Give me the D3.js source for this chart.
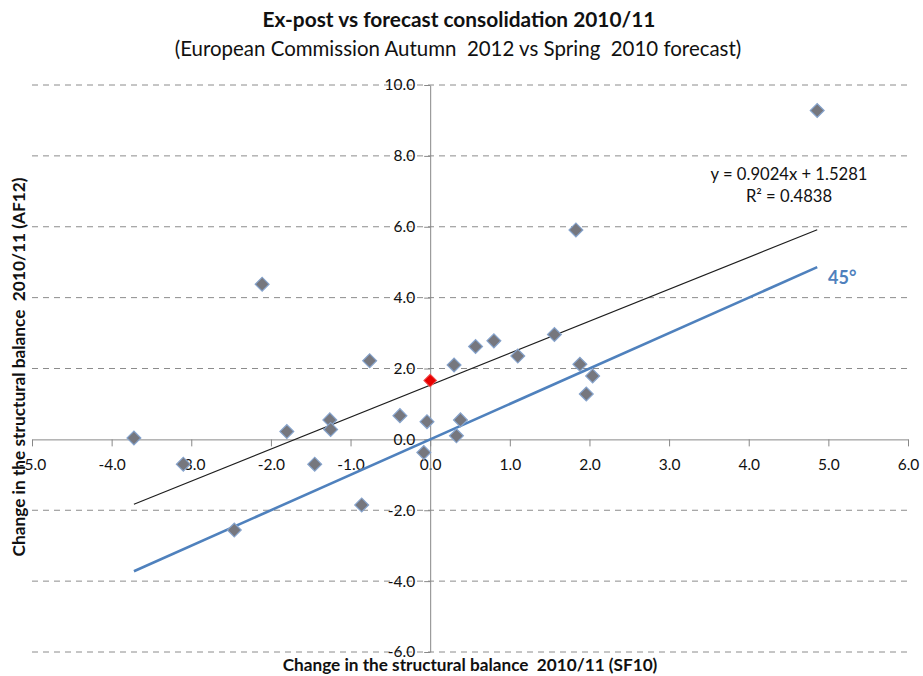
<!DOCTYPE html>
<html>
<head>
<meta charset="utf-8">
<title>Ex-post vs forecast consolidation 2010/11</title>
<style>
  body { margin: 0; background: #fff; }
  text { font-family: Lato, "Open Sans", sans-serif; fill: #111; }
</style>
</head>
<body>
<div id="chart"></div>
<script src="https://cdn.jsdelivr.net/npm/d3@7"></script>
<script>
// change in structural balance 2010/11: forecast (SF10) vs ex-post (AF12)
var sf10 = [-3.72, -3.10, -2.46, -2.11, -1.80, -1.45, -1.26, -1.25, -0.76, -0.86, -0.38, -0.04, -0.08,
            0.33, 0.38, 0.30, 0.57, 0.80, 1.10, 1.56, 1.83, 1.88, 2.04, 1.96, 4.86];
var af12 = [0.04, -0.70, -2.56, 4.38, 0.22, -0.70, 0.55, 0.28, 2.22, -1.85, 0.67, 0.50, -0.37,
            0.10, 0.55, 2.10, 2.62, 2.78, 2.35, 2.96, 5.91, 2.12, 1.79, 1.28, 9.28];
var redX = [0.0];
var redY = [1.66];

var xTicks = [-5, -4, -3, -2, -1, 0, 1, 2, 3, 4, 5, 6];
var yTicks = [-6, -4, -2, 0, 2, 4, 6, 8, 10];

var trendSlope = 0.9024;
var trendIntercept = 1.5281;
var equationLines = ["y = 0.9024x + 1.5281", "R\u00b2 = 0.4838"];

var W = 923, H = 676;
var svg = d3.select("#chart").append("svg").attr("width", W).attr("height", H);

var x = d3.scaleLinear().domain([-5, 6]).range([32, 908]);
var y = d3.scaleLinear().domain([-6, 10]).range([652, 85]);

function fitWidth(sel, w) {
	var len = sel.node().getComputedTextLength();
	var fs = parseFloat(sel.attr("font-size"));
	sel.attr("font-size", (fs * w / len).toFixed(2));
}

// gridlines
svg.append("g").selectAll("line")
	.data(yTicks.filter(function(d) { return d !== 0; }))
	.join("line")
	.attr("x1", x(-5)).attr("x2", x(6))
	.attr("y1", function(d) { return y(d); }).attr("y2", function(d) { return y(d); })
	.attr("stroke", "#8c8c8c")
	.attr("stroke-width", 1)
	.attr("stroke-dasharray", "6,5");

var fmt = function(d) { return d.toFixed(1); };

var xAxis = svg.append("g")
	.attr("transform", "translate(0," + y(0) + ")")
	.call(d3.axisBottom(x).tickValues(xTicks).tickSize(7).tickSizeOuter(0).tickPadding(13).tickFormat(fmt));

var yAxis = svg.append("g")
	.attr("transform", "translate(" + x(0) + ",0)")
	.call(d3.axisLeft(y).tickValues(yTicks).tickSize(6).tickSizeOuter(0).tickPadding(9).tickFormat(fmt));

[xAxis, yAxis].forEach(function(g) {
	g.selectAll("path, line").attr("stroke", "#888");
	g.selectAll("text").attr("font-size", 15.5).attr("font-family", "Lato, sans-serif").attr("fill", "#111");
});

// trend line and 45 degree line over the data range
var xExt = d3.extent(sf10);
var line = d3.line().x(function(d) { return x(d[0]); }).y(function(d) { return y(d[1]); });

svg.append("path")
	.datum(xExt.map(function(v) { return [v, trendSlope * v + trendIntercept]; }))
	.attr("d", line)
	.attr("fill", "none")
	.attr("stroke", "#1e1e1e")
	.attr("stroke-width", 1.2);

svg.append("path")
	.datum(xExt.map(function(v) { return [v, v]; }))
	.attr("d", line)
	.attr("fill", "none")
	.attr("stroke", "#4f81bd")
	.attr("stroke-width", 2.6);

// points
var diamond = d3.symbol().type(d3.symbolSquare).size(96);

svg.append("g").selectAll("path")
	.data(d3.zip(sf10, af12))
	.join("path")
	.attr("d", diamond)
	.attr("transform", function(d) { return "translate(" + x(d[0]) + "," + y(d[1]) + ") rotate(45)"; })
	.attr("fill", "#76777e")
	.attr("stroke", "#86a3cc")
	.attr("stroke-width", 1.2);

svg.append("g").selectAll("path")
	.data(d3.zip(redX, redY))
	.join("path")
	.attr("d", d3.symbol().type(d3.symbolSquare).size(80))
	.attr("transform", function(d) { return "translate(" + x(d[0]) + "," + y(d[1]) + ") rotate(45)"; })
	.attr("fill", "#e80000")
	.attr("stroke", "#f05050")
	.attr("stroke-width", 1);

// equation labels
var eq = svg.append("g");
var eq1 = eq.append("text").attr("x", 789).attr("y", 180).attr("text-anchor", "middle")
	.attr("font-size", 14).text(equationLines[0]);
fitWidth(eq1, 157);
eq.append("text").attr("x", 789).attr("y", 202).attr("text-anchor", "middle")
	.attr("font-size", eq1.attr("font-size")).text(equationLines[1]);

svg.append("text").attr("x", 828).attr("y", 284)
	.attr("font-size", 18).attr("font-weight", "bold")
	.style("fill", "#4f81bd").text("45\u00b0");

// titles
var t1 = svg.append("text").attr("x", 459).attr("y", 27).attr("text-anchor", "middle")
	.attr("font-size", 18).attr("font-weight", "bold")
	.text("Ex-post vs forecast consolidation 2010/11");
fitWidth(t1, 393);

var t2 = svg.append("text").attr("x", 458).attr("y", 56).attr("text-anchor", "middle")
	.attr("font-size", 18)
	.style("white-space", "pre")
	.text("(European Commission Autumn  2012 vs Spring  2010 forecast)");
fitWidth(t2, 567);

var xt = svg.append("text").attr("x", 470).attr("y", 671).attr("text-anchor", "middle")
	.attr("font-size", 15).attr("font-weight", "bold")
	.style("white-space", "pre")
	.text("Change in the structural balance  2010/11 (SF10)");
fitWidth(xt, 375);

var yt = svg.append("text").attr("transform", "translate(25,367) rotate(-90)")
	.attr("text-anchor", "middle")
	.attr("font-size", 15).attr("font-weight", "bold")
	.style("white-space", "pre")
	.text("Change in the structural balance  2010/11 (AF12)");
fitWidth(yt, 379);
</script>
</body>
</html>
